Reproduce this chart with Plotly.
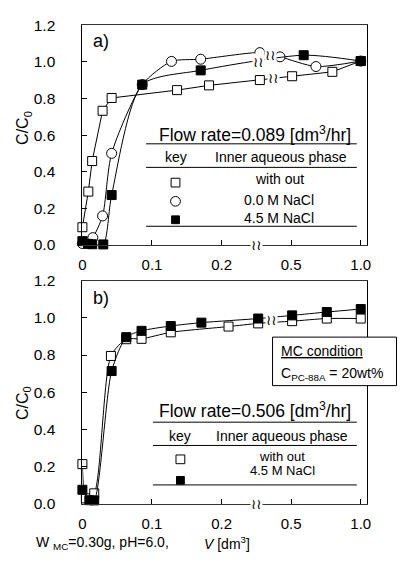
import numpy as np
import plotly.graph_objects as go

# ---------------- data (V in dm3, C/C0) ----------------
# panel a) flow rate 0.089 dm3/hr
V_a_open = [0, 0.0085, 0.014, 0.029, 0.042, 0.136, 0.182, 0.275, 0.507, 0.796, 1.0]
C_a_open = [0.096, 0.291, 0.458, 0.733, 0.803, 0.846, 0.872, 0.901, 0.922, 0.946, 1.005]

V_a_circ = [0, 0.0085, 0.015, 0.029, 0.042, 0.086, 0.128, 0.170, 0.275, 0.42, 0.678, 1.0]
C_a_circ = [0.007, 0.013, 0.039, 0.158, 0.50, 0.876, 1.003, 1.015, 1.051, 1.028, 0.975, 1.005]

V_a_fill = [0, 0.008, 0.014, 0.030, 0.042, 0.086, 0.170, 0.59, 1.0]
C_a_fill = [0.02, 0.005, 0.003, 0.002, 0.272, 0.876, 0.954, 1.037, 1.005]

# panel b) flow rate 0.506 dm3/hr
V_b_open = [0, 0.005, 0.017, 0.041, 0.063, 0.085, 0.127, 0.21, 0.263, 0.507, 0.756, 1.0]
C_b_open = [0.214, 0.03, 0.057, 0.795, 0.885, 0.887, 0.922, 0.953, 0.97, 0.982, 0.996, 0.996]

V_b_fill = [0, 0.01, 0.017, 0.042, 0.063, 0.085, 0.127, 0.171, 0.263, 0.507, 0.756, 1.0]
C_b_fill = [0.076, 0.02, 0.019, 0.714, 0.896, 0.93, 0.956, 0.974, 0.996, 1.013, 1.031, 1.047]

x_ticks = [0, 0.1, 0.2, 0.5, 1.0]
x_ticktext = ["0", "0.1", "0.2", "0.5", "1.0"]
y_ticks = [0, 0.2, 0.4, 0.6, 0.8, 1.0, 1.2]

BREAK = 0.25      # broken x axis: scale compressed 5x beyond this value
COMPRESS = 0.2


def xt(v):
    v = np.asarray(v, dtype=float)
    return np.where(v <= BREAK, v, BREAK + (v - BREAK) * COMPRESS)


# ---------------- figure geometry ----------------
W, H = 401, 565
FONT = "Liberation Sans, Arial, sans-serif"


def PX(x):
    return x / W


def PY(y):
    return 1 - y / H


XL, XR = 80, 370
A_TOP, A_BOT = 16.9, 243.1
B_TOP, B_BOT = 280.0, 510.3
X_MAX = (XR - XL) / 710.0

fig = go.Figure()


def add_series(V, C, xa, ya, symbol, fill, shape, size):
    fig.add_trace(go.Scatter(
        x=xt(V), y=C, xaxis=xa, yaxis=ya, mode="lines+markers",
        line=dict(color="black", width=1, shape=shape, smoothing=0.7),
        marker=dict(symbol=symbol, size=size, color=fill,
                    line=dict(color="black", width=1)),
        cliponaxis=False, showlegend=False, hoverinfo="skip"))


add_series(V_a_open, C_a_open, "x", "y", "square", "white", "linear", 9)
add_series(V_a_circ, C_a_circ, "x", "y", "circle", "white", "spline", 10)
add_series(V_a_fill, C_a_fill, "x", "y", "square", "black", "spline", 9)
add_series(V_b_open, C_b_open, "x2", "y2", "square", "white", "spline", 9)
add_series(V_b_fill, C_b_fill, "x2", "y2", "square", "black", "spline", 9)

xcommon = dict(range=[0, X_MAX], tickvals=list(xt(x_ticks)), ticktext=x_ticktext,
               ticks="inside", ticklen=5, tickcolor="black", showline=True,
               linecolor="#333", linewidth=1, mirror=True, showgrid=False,
               zeroline=False, tickfont=dict(family=FONT, size=15, color="black"),
               ticklabelstandoff=6, domain=[PX(XL), PX(XR)], fixedrange=True)
ycommon = dict(range=[0, 1.2], tickvals=y_ticks, ticktext=[f"{v:.1f}" for v in y_ticks],
               ticks="inside", ticklen=5, tickcolor="black", showline=True,
               linecolor="black", linewidth=1, mirror=True, showgrid=False,
               zeroline=False, tickfont=dict(family=FONT, size=15.5, color="black"),
               ticklabelstandoff=23, fixedrange=True)

fig.update_layout(
    width=W, height=H, margin=dict(l=0, r=0, t=0, b=0),
    paper_bgcolor="white", plot_bgcolor="white",
    xaxis=dict(**xcommon, anchor="y"),
    yaxis=dict(**ycommon, anchor="x", domain=[PY(A_BOT), PY(A_TOP)]),
    xaxis2=dict(**xcommon, anchor="y2"),
    yaxis2=dict(**ycommon, anchor="x2", domain=[PY(B_BOT), PY(B_TOP)]),
)

anns = []
shapes = []


def text(t, x, y, size=14, xanchor="center", angle=0):
    anns.append(dict(text=t, x=PX(x), y=PY(y), xref="paper", yref="paper",
                     xanchor=xanchor, yanchor="middle", showarrow=False,
                     textangle=angle, font=dict(family=FONT, size=size, color="black")))


def hline(y, x0, x1, w=1):
    shapes.append(dict(type="line", xref="paper", yref="paper",
                       x0=PX(x0), x1=PX(x1), y0=PY(y), y1=PY(y),
                       line=dict(color="black", width=w)))


def key(kind, x, y, s=9):
    fill = "black" if kind == "fill" else "white"
    shapes.append(dict(type="circle" if kind == "circ" else "rect", xref="paper", yref="paper",
                       x0=PX(x - s / 2), x1=PX(x + s / 2), y0=PY(y + s / 2), y1=PY(y - s / 2),
                       fillcolor=fill, line=dict(color="black", width=1)))


def squiggle(xa, ya, xv, yv, size=14):
    anns.append(dict(text="≀≀", x=xv, y=yv, xref=xa, yref=ya, showarrow=False,
                     xanchor="center", yanchor="middle", bgcolor="white", borderpad=0,
                     font=dict(family="DejaVu Sans", size=size, color="black")))


# ---- panel a annotations ----
text("a)", 89, 33, 18, "left")
text("C/C<sub>0</sub>", 20, 123, 16, angle=-90)
text("Flow rate=0.089 [dm<sup>3</sup>/hr]", 156, 128.5, 17.5, "left")
hline(139, 145, 360)
text("key", 175, 152.7, 14)
text("Inner aqueous phase", 283, 152.7, 14)
hline(163.3, 145, 360)
text("with out", 281, 175, 14)
text("0.0 M NaCl", 281, 196.5, 14)
text("4.5 M NaCl", 281, 215, 14)
key("open", 175, 179, 9)
key("circ", 175, 198.3, 10)
key("fill", 175, 217.3, 8)
hline(224, 145, 360)

# ---- panel b annotations ----
text("b)", 89, 298.3, 18, "left")
text("C/C<sub>0</sub>", 20, 406.7, 16, angle=-90)
shapes.append(dict(type="rect", xref="paper", yref="paper", x0=PX(274), x1=PX(400.5),
                   y0=PY(388.3), y1=PY(338.3), fillcolor="white",
                   line=dict(color="black", width=1)))
text("<u>MC condition</u>", 281, 353, 14, "left")
text("C<sub>PC-88A</sub> = 20wt%", 281, 376, 14, "left")
text("Flow rate=0.506 [dm<sup>3</sup>/hr]", 156, 413.3, 17.5, "left")
hline(426, 152, 360)
text("key", 180, 440, 14)
text("Inner aqueous phase", 284, 440, 14)
hline(450, 152, 360)
text("with out", 284, 461, 13)
text("4.5 M NaCl", 284, 476, 13)
key("open", 180, 464.3, 9)
key("fill", 180, 486, 8)
hline(490.7, 152, 360)

# bottom text
text("W <sub>MC</sub>=0.30g, pH=6.0,", 31, 551, 14, "left")
text("<i>V</i> [dm<sup>3</sup>]", 228, 551, 14)

# ---- axis-break squiggles ----
ub = float(xt(BREAK))
squiggle("x", "y", ub, 0)
squiggle("x2", "y2", ub, 0)
for V, C, upos in [(V_a_open, C_a_open, (275 - XL) / 710.0),
                   (V_a_circ, C_a_circ, (272 - XL) / 710.0),
                   (V_a_fill, C_a_fill, (260 - XL) / 710.0)]:
    squiggle("x", "y", upos, float(np.interp(upos, xt(V), C)))
ub2 = (273 - XL) / 710.0
yb2 = 0.5 * (np.interp(ub2, xt(V_b_open), C_b_open) + np.interp(ub2, xt(V_b_fill), C_b_fill))
squiggle("x2", "y2", ub2, float(yb2))

fig.update_layout(annotations=anns, shapes=shapes)
fig.write_html("out.html", config={"displayModeBar": False, "staticPlot": True},
               post_script="document.body.style.margin='0';document.body.style.overflow='hidden';")
